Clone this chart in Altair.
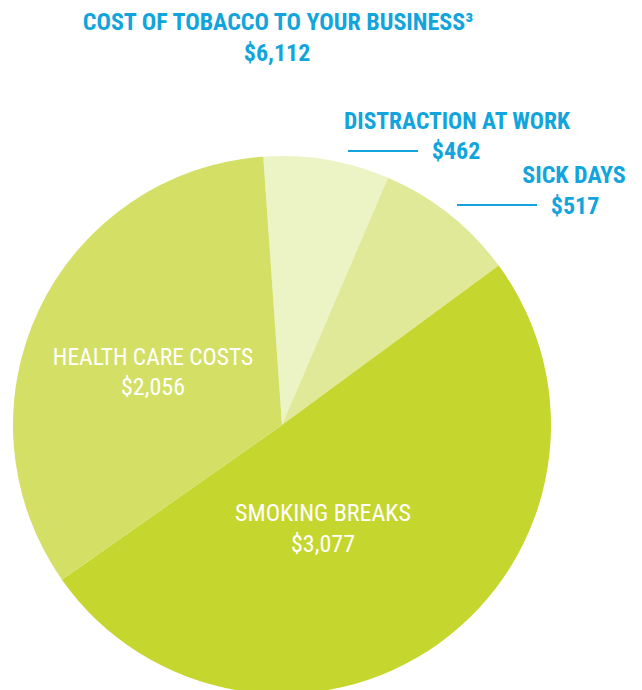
import math
import altair as alt
import pandas as pd

# ---- data ----
categories = ["Distraction at work", "Sick days", "Smoking breaks", "Health care costs"]
values = [462, 517, 3077, 2056]
slice_order = [0, 1, 2, 3]
colors = ["#ecf3c4", "#e0e997", "#c5d62e", "#d4df66"]

title_line = "COST OF TOBACCO TO YOUR BUSINESS\u00b3"
total_label = "$6,112"
label_names = ["DISTRACTION AT WORK", "SICK DAYS", "SMOKING BREAKS", "HEALTH CARE COSTS"]
label_values = ["$462", "$517", "$3,077", "$2,056"]

df = pd.DataFrame({"category": categories, "value": values, "order": slice_order})

W, H = 626, 682
CX, CY = 274, 417
R = 269
start = math.radians(-4)
FONT = "Roboto Condensed, DejaVu Sans Condensed, sans-serif"
BLUE = "#12a4dc"

pie = alt.Chart(df).mark_arc(outerRadius=R).encode(
    theta=alt.Theta("value:Q", stack=True,
                    scale=alt.Scale(range=[start, start + 2 * math.pi])),
    color=alt.Color("category:N",
                    scale=alt.Scale(domain=categories, range=colors),
                    legend=None),
    order=alt.Order("order:Q"),
    x=alt.value(CX),
    y=alt.value(CY),
)

dummy = alt.Data(values=[{"a": 1}])


def txt(s, x, y, size, color, weight="bold", align="center"):
    return alt.Chart(dummy).mark_text(
        text=s, font=FONT, fontSize=size, fontWeight=weight, color=color,
        align=align, baseline="middle",
    ).encode(x=alt.value(x), y=alt.value(y))


def rule(x1, x2, y):
    return alt.Chart(dummy).mark_rule(color=BLUE, strokeWidth=2).encode(
        x=alt.value(x1), x2=alt.value(x2), y=alt.value(y))


layers = [
    pie,
    txt(title_line, 270, 15, 24, BLUE),
    txt(total_label, 269, 46, 24, BLUE),
    txt(label_names[0], 449, 114, 23.5, BLUE),
    txt(label_values[0], 448, 144, 24, BLUE),
    rule(340, 410, 143),
    txt(label_names[1], 566, 168, 24, BLUE),
    txt(label_values[1], 567, 199, 24, BLUE),
    rule(449, 529, 197),
    txt(label_names[2], 315, 506, 24, "white", weight="normal"),
    txt(label_values[2], 315, 537, 24, "white", weight="normal"),
    txt(label_names[3], 145, 350, 23.5, "white", weight="normal"),
    txt(label_values[3], 145, 380, 24, "white", weight="normal"),
]

chart = alt.layer(*layers).properties(
    width=W, height=H,
    autosize=alt.AutoSizeParams(type="none"),
    padding=0,
).configure_view(stroke=None)

chart.save("out.html", embed_options={"renderer": "svg", "actions": False})
